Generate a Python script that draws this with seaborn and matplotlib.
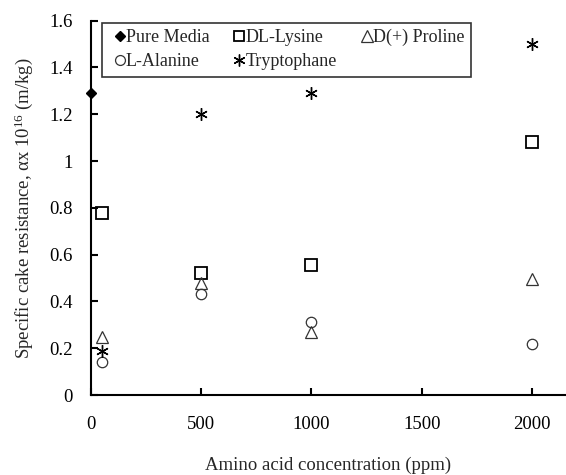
import matplotlib
matplotlib.use("Agg")
import matplotlib.pyplot as plt
import seaborn as sns
import pandas as pd

# Specific cake resistance (x 10^16 m/kg) versus amino acid concentration
pure_media_x = [0]
pure_media_y = [1.29]

lysine_x = [50, 500, 1000, 2000]
lysine_y = [0.78, 0.52, 0.555, 1.08]

proline_x = [50, 500, 1000, 2000]
proline_y = [0.25, 0.48, 0.27, 0.495]

alanine_x = [50, 500, 1000, 2000]
alanine_y = [0.14, 0.43, 0.31, 0.22]

tryptophane_x = [50, 500, 1000, 2000]
tryptophane_y = [0.19, 1.20, 1.29, 1.50]

x_ticks = [0, 500, 1000, 1500, 2000]
y_ticks = [0, 0.2, 0.4, 0.6, 0.8, 1.0, 1.2, 1.4, 1.6]
y_tick_labels = ["0", "0.2", "0.4", "0.6", "0.8", "1", "1.2", "1.4", "1.6"]

sns.set_theme(style="white")
plt.rcParams["font.family"] = ["Liberation Serif", "DejaVu Serif"]
plt.rcParams["mathtext.fontset"] = "custom"
plt.rcParams["mathtext.rm"] = "Liberation Serif"
plt.rcParams["mathtext.it"] = "Liberation Serif:italic"

fig = plt.figure(figsize=(5.66, 4.75), dpi=100)
ax = fig.add_axes([0.1602, 0.1684, 1.0 - 0.1602, 0.9564 - 0.1684])

series = [
    ("Pure Media", pure_media_x, pure_media_y,
     dict(marker="D", ms=5.5, mfc="black", mec="black", mew=1.0)),
    ("DL-Lysine", lysine_x, lysine_y,
     dict(marker="s", ms=8, mfc="none", mec="black", mew=1.3)),
    ("D(+) Proline", proline_x, proline_y,
     dict(marker="^", ms=8.5, mfc="none", mec="#333333", mew=0.9)),
    ("L-Alanine", alanine_x, alanine_y,
     dict(marker="o", ms=7.5, mfc="none", mec="#333333", mew=0.9)),
    ("Tryptophane", tryptophane_x, tryptophane_y,
     dict(marker=(6, 2, 0), ms=9, mfc="none", mec="black", mew=1.0)),
]

for name, xs, ys, style in series:
    df = pd.DataFrame({"conc": xs, "alpha": ys})
    sns.lineplot(data=df, x="conc", y="alpha", ax=ax, linestyle="",
                 color="black", label=name, clip_on=False, zorder=3, **style)

ax.set_xlim(0, 2153)
ax.set_ylim(0, 1.6)
ax.set_xticks(x_ticks)
ax.set_xticklabels([str(t) for t in x_ticks])
ax.set_yticks(y_ticks)
ax.set_yticklabels(y_tick_labels)

for side in ("top", "right"):
    ax.spines[side].set_visible(False)
for side in ("left", "bottom"):
    ax.spines[side].set_color("black")
    ax.spines[side].set_linewidth(1.5)

ax.tick_params(axis="both", direction="in", length=5, width=1.5,
               colors="black", labelsize=13.5, left=True, bottom=True)
ax.tick_params(axis="y", pad=13)
ax.tick_params(axis="x", pad=15)

ax.set_xlabel("Amino acid concentration (ppm)", fontsize=13.5, labelpad=17)
ax.set_ylabel("Specific cake resistance, αx 10$^{16}$ (m/kg)",
              fontsize=13.5, labelpad=10)

# legend filled row by row: three entries on top, two below
handles, labels = ax.get_legend_handles_labels()
order = [0, 3, 1, 4, 2]
leg = ax.legend([handles[i] for i in order], [labels[i] for i in order],
                loc="upper left", bbox_to_anchor=(0.023, 0.995), ncol=3,
                frameon=True, fancybox=False, fontsize=13, markerscale=0.95,
                handlelength=1.3, handletextpad=-0.3, columnspacing=1.0,
                borderaxespad=0, borderpad=0.35, labelspacing=0.4)
leg.get_frame().set_edgecolor("black")
leg.get_frame().set_linewidth(1.2)

fig.savefig("out.png", dpi=100)
